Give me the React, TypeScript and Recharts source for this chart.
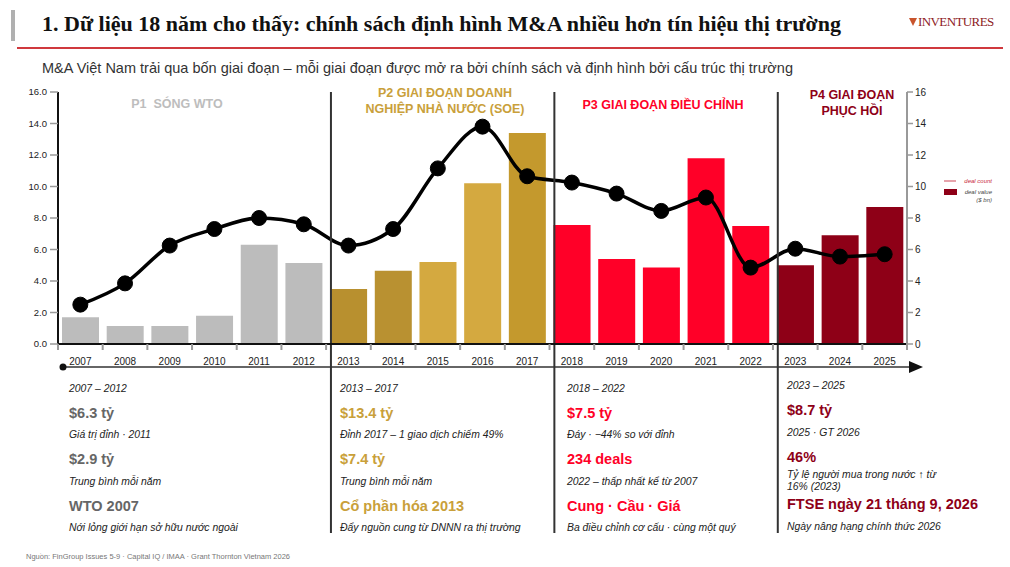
import {
  ComposedChart,
  Bar,
  Line,
  Cell,
  XAxis,
  YAxis,
  ReferenceLine,
} from "recharts";

// Năm và số liệu đọc từ biểu đồ gốc
const years = [
  "2007", "2008", "2009", "2010", "2011", "2012",
  "2013", "2014", "2015", "2016", "2017",
  "2018", "2019", "2020", "2021", "2022",
  "2023", "2024", "2025",
];
// deal value ($ bn)
const dealValue = [
  1.7, 1.15, 1.15, 1.8, 6.3, 5.15,
  3.5, 4.65, 5.2, 10.2, 13.4,
  7.55, 5.4, 4.85, 11.8, 7.5,
  5.0, 6.9, 8.7,
];
// deal count (scaled onto right axis)
const dealCount = [
  2.5, 3.85, 6.25, 7.3, 8.0, 7.6,
  6.25, 7.3, 11.15, 13.8, 10.65,
  10.25, 9.55, 8.45, 9.3, 4.85,
  6.05, 5.55, 5.7,
];
const barColors = [
  "#bcbcbc", "#bcbcbc", "#bcbcbc", "#bcbcbc", "#bcbcbc", "#bcbcbc",
  "#b8902f", "#b99131", "#d4a940", "#d4a940", "#c4992d",
  "#ff0028", "#ff0028", "#ff0028", "#ff0028", "#ff0028",
  "#8e0017", "#8e0017", "#8e0017",
];
const leftTicks = [0, 2, 4, 6, 8, 10, 12, 14, 16];
const rightTicks = [0, 2, 4, 6, 8, 10, 12, 14, 16];
// năm mở đầu mỗi giai đoạn mới -> đường phân cách
const phaseStarts = ["2013", "2018", "2023"];

const data = years.map((y, i) => ({
  year: y,
  value: dealValue[i],
  count: dealCount[i],
}));

const W = 1010;
const H = 567;
const MARGIN = { top: 92, right: 73, bottom: 193, left: 0 };
const LEFT_AXIS_W = 58;
const RIGHT_AXIS_W = 30;
const PLOT_W = W - MARGIN.left - MARGIN.right - LEFT_AXIS_W - RIGHT_AXIS_W;
const BAND = PLOT_W / years.length;
const BAR = 37;
const SEP_BOTTOM = 533;

const phases = [
  { label: "P1  SÓNG WTO", color: "#bdbdbd", cx: 177, top: 96 },
  { label: "P2 GIAI ĐOẠN DOANH\nNGHIỆP NHÀ NƯỚC (SOE)", color: "#c9a03a", cx: 445, top: 85 },
  { label: "P3 GIAI ĐOẠN ĐIỀU CHỈNH", color: "#ff0027", cx: 663, top: 97 },
  { label: "P4 GIAI ĐOẠN\nPHỤC HỒI", color: "#8e0017", cx: 852, top: 87 },
];

type Row = { text: string; kind: "s" | "b"; y: number };
const panels: { x: number; color: string; rows: Row[] }[] = [
  {
    x: 69,
    color: "#666666",
    rows: [
      { text: "2007 – 2012", kind: "s", y: 389 },
      { text: "$6.3 tỷ", kind: "b", y: 413 },
      { text: "Giá trị đỉnh  ·  2011", kind: "s", y: 435 },
      { text: "$2.9 tỷ", kind: "b", y: 459 },
      { text: "Trung bình mỗi năm", kind: "s", y: 482 },
      { text: "WTO 2007", kind: "b", y: 506 },
      { text: "Nới lỏng giới hạn sở hữu nước ngoài", kind: "s", y: 528 },
    ],
  },
  {
    x: 340,
    color: "#c9a03a",
    rows: [
      { text: "2013 – 2017", kind: "s", y: 389 },
      { text: "$13.4 tỷ", kind: "b", y: 413 },
      { text: "Đỉnh 2017 – 1 giao dịch chiếm 49%", kind: "s", y: 435 },
      { text: "$7.4 tỷ", kind: "b", y: 459 },
      { text: "Trung bình mỗi năm", kind: "s", y: 482 },
      { text: "Cổ phần hóa 2013", kind: "b", y: 506 },
      { text: "Đẩy nguồn cung từ DNNN ra thị trường", kind: "s", y: 528 },
    ],
  },
  {
    x: 567,
    color: "#ff0027",
    rows: [
      { text: "2018 – 2022", kind: "s", y: 389 },
      { text: "$7.5 tỷ", kind: "b", y: 413 },
      { text: "Đáy · −44% so với đỉnh", kind: "s", y: 435 },
      { text: "234 deals", kind: "b", y: 459 },
      { text: "2022 – thấp nhất kể từ 2007", kind: "s", y: 482 },
      { text: "Cung · Cầu · Giá", kind: "b", y: 506 },
      { text: "Ba điều chỉnh cơ cấu · cùng một quý", kind: "s", y: 528 },
    ],
  },
  {
    x: 787,
    color: "#8e0017",
    rows: [
      { text: "2023 – 2025", kind: "s", y: 386 },
      { text: "$8.7 tỷ", kind: "b", y: 410 },
      { text: "2025  ·  GT 2026", kind: "s", y: 433 },
      { text: "46%", kind: "b", y: 457 },
      { text: "Tỷ lệ người mua trong nước ↑ từ", kind: "s", y: 475 },
      { text: "16% (2023)", kind: "s", y: 487 },
      { text: "FTSE ngày 21 tháng 9, 2026", kind: "b", y: 504 },
      { text: "Ngày nâng hạng chính thức 2026", kind: "s", y: 527 },
    ],
  },
];

function XTick(props: any) {
  const { x, y, payload, index } = props;
  const half = BAND / 2;
  return (
    <g>
      <line x1={x - half} x2={x - half} y1={y} y2={y + 6} stroke="#9a9a9a" strokeWidth={2} />
      {index === years.length - 1 && (
        <line x1={x + half} x2={x + half} y1={y} y2={y + 6} stroke="#9a9a9a" strokeWidth={2} />
      )}
      <text x={x} y={y + 21} textAnchor="middle" fontSize={10} fill="#222">
        {payload.value}
      </text>
    </g>
  );
}

function Separator(p: any) {
  const x = p.x1 - BAR / 2 + 1;
  const top = Math.min(p.y1, p.y2);
  return <line x1={x} x2={x} y1={top} y2={SEP_BOTTOM} stroke="#333" strokeWidth={2} />;
}

export default function App() {
  return (
    <div
      style={{
        position: "absolute",
        left: 0,
        top: 0,
        width: W,
        height: H,
        background: "#fff",
        fontFamily: "'Liberation Sans', Arial, sans-serif",
        overflow: "hidden",
      }}
    >
      {/* header */}
      <div style={{ position: "absolute", left: 11, top: 10, width: 4, height: 31, background: "#b0b0b0" }} />
      <div
        style={{
          position: "absolute",
          left: 42,
          top: 11,
          fontFamily: "'Liberation Serif', serif",
          fontWeight: 700,
          fontSize: 22,
          color: "#111",
          whiteSpace: "nowrap",
        }}
      >
        1. Dữ liệu 18 năm cho thấy: chính sách định hình M&A nhiều hơn tín hiệu thị trường
      </div>
      <div style={{ position: "absolute", left: 909, top: 14, display: "flex", alignItems: "center" }}>
        <svg width={8} height={10}>
          <polygon points="0,1 8,1 4,9" fill="#c8542c" />
        </svg>
        <span
          style={{
            fontFamily: "'Liberation Serif', serif",
            fontSize: 13,
            color: "#8e1b1e",
            letterSpacing: -0.6,
            marginLeft: 1,
          }}
        >
          INVENTURES
        </span>
      </div>
      <div style={{ position: "absolute", left: 17, top: 47, width: 986, height: 2, background: "#d0393e" }} />
      <div
        style={{
          position: "absolute",
          left: 42,
          top: 60,
          fontSize: 14.5,
          color: "#333",
          whiteSpace: "nowrap",
        }}
      >
        M&A Việt Nam trải qua bốn giai đoạn – mỗi giai đoạn được mở ra bởi chính sách và định hình bởi cấu trúc thị trường
      </div>

      <div style={{ position: "absolute", left: 0, top: 0 }}>
        <ComposedChart width={W} height={H} data={data} margin={MARGIN}>
          <XAxis
            dataKey="year"
            height={30}
            tickSize={0}
            tickMargin={0}
            tickLine={false}
            axisLine={{ stroke: "#111", strokeWidth: 2 }}
            tick={<XTick />}
            interval={0}
          />
          <YAxis
            yAxisId="left"
            width={LEFT_AXIS_W}
            domain={[0, 16]}
            ticks={leftTicks}
            tickFormatter={(v: number) => v.toFixed(1)}
            tick={{ fontSize: 9.5, fill: "#222" }}
            tickSize={8}
            tickMargin={3}
            tickLine={{ stroke: "#999", strokeWidth: 1.5 }}
            axisLine={{ stroke: "#111", strokeWidth: 2 }}
          />
          <YAxis
            yAxisId="right"
            orientation="right"
            width={RIGHT_AXIS_W}
            domain={[0, 16]}
            ticks={rightTicks}
            tick={{ fontSize: 10, fill: "#222" }}
            tickSize={6}
            tickMargin={2}
            tickLine={{ stroke: "#999", strokeWidth: 1.5 }}
            axisLine={{ stroke: "#999", strokeWidth: 2 }}
          />
          <Bar yAxisId="left" dataKey="value" barSize={BAR} isAnimationActive={false}>
            {data.map((d, i) => (
              <Cell key={d.year} fill={barColors[i]} />
            ))}
          </Bar>
          <Line
            yAxisId="right"
            type="monotone"
            dataKey="count"
            stroke="#000"
            strokeWidth={3.5}
            dot={{ r: 7.5, fill: "#000", stroke: "#000", strokeWidth: 1 }}
            activeDot={false}
            isAnimationActive={false}
          />
          {phaseStarts.map((y) => (
            <ReferenceLine key={y} x={y} yAxisId="left" shape={<Separator />} />
          ))}
        </ComposedChart>
      </div>

      {/* timeline arrow under the year labels */}
      <svg style={{ position: "absolute", left: 0, top: 0 }} width={W} height={H} pointerEvents="none">
        <line x1={63} x2={912} y1={367} y2={367} stroke="#333" strokeWidth={1.5} />
        <circle cx={63} cy={367} r={3.5} fill="#111" />
        <polygon points="909,361 923,367 909,373" fill="#111" />
      </svg>

      {/* phase titles */}
      {phases.map((p) => (
        <div
          key={p.label}
          style={{
            position: "absolute",
            left: p.cx - 120,
            top: p.top,
            width: 240,
            textAlign: "center",
            fontWeight: 700,
            fontSize: 12.5,
            lineHeight: "16px",
            color: p.color,
            whiteSpace: "pre",
          }}
        >
          {p.label}
        </div>
      ))}

      {/* legend */}
      <div style={{ position: "absolute", left: 944, top: 178, width: 48, fontSize: 6, fontStyle: "italic" }}>
        <div style={{ display: "flex", alignItems: "center", justifyContent: "space-between" }}>
          <div style={{ width: 12, height: 1.5, background: "#e6a3ab" }} />
          <span style={{ color: "#c8283c" }}>deal count</span>
        </div>
        <div style={{ display: "flex", alignItems: "flex-start", justifyContent: "space-between", marginTop: 4 }}>
          <div style={{ width: 13, height: 6, background: "#8e0017", marginTop: 1 }} />
          <span style={{ color: "#444", textAlign: "right", lineHeight: "8px" }}>
            deal value
            <br />($ bn)
          </span>
        </div>
      </div>

      {/* bottom panels */}
      {panels.map((p, i) =>
        p.rows.map((r, j) => (
          <div
            key={i + "-" + j}
            style={{
              position: "absolute",
              left: p.x,
              top: r.y - (r.kind === "b" ? 9 : 7),
              lineHeight: r.kind === "b" ? "18px" : "14px",
              fontSize: r.kind === "b" ? 14.5 : 10.4,
              fontWeight: r.kind === "b" ? 700 : 400,
              fontStyle: r.kind === "b" ? "normal" : "italic",
              color: r.kind === "b" ? p.color : "#222",
              whiteSpace: "nowrap",
            }}
          >
            {r.text}
          </div>
        ))
      )}

      <div
        style={{
          position: "absolute",
          left: 26,
          top: 552,
          fontSize: 7.5,
          color: "#777",
          whiteSpace: "nowrap",
        }}
      >
        Nguồn: FinGroup Issues 5-9  ·  Capital IQ / IMAA  ·  Grant Thornton Vietnam 2026
      </div>
    </div>
  );
}
